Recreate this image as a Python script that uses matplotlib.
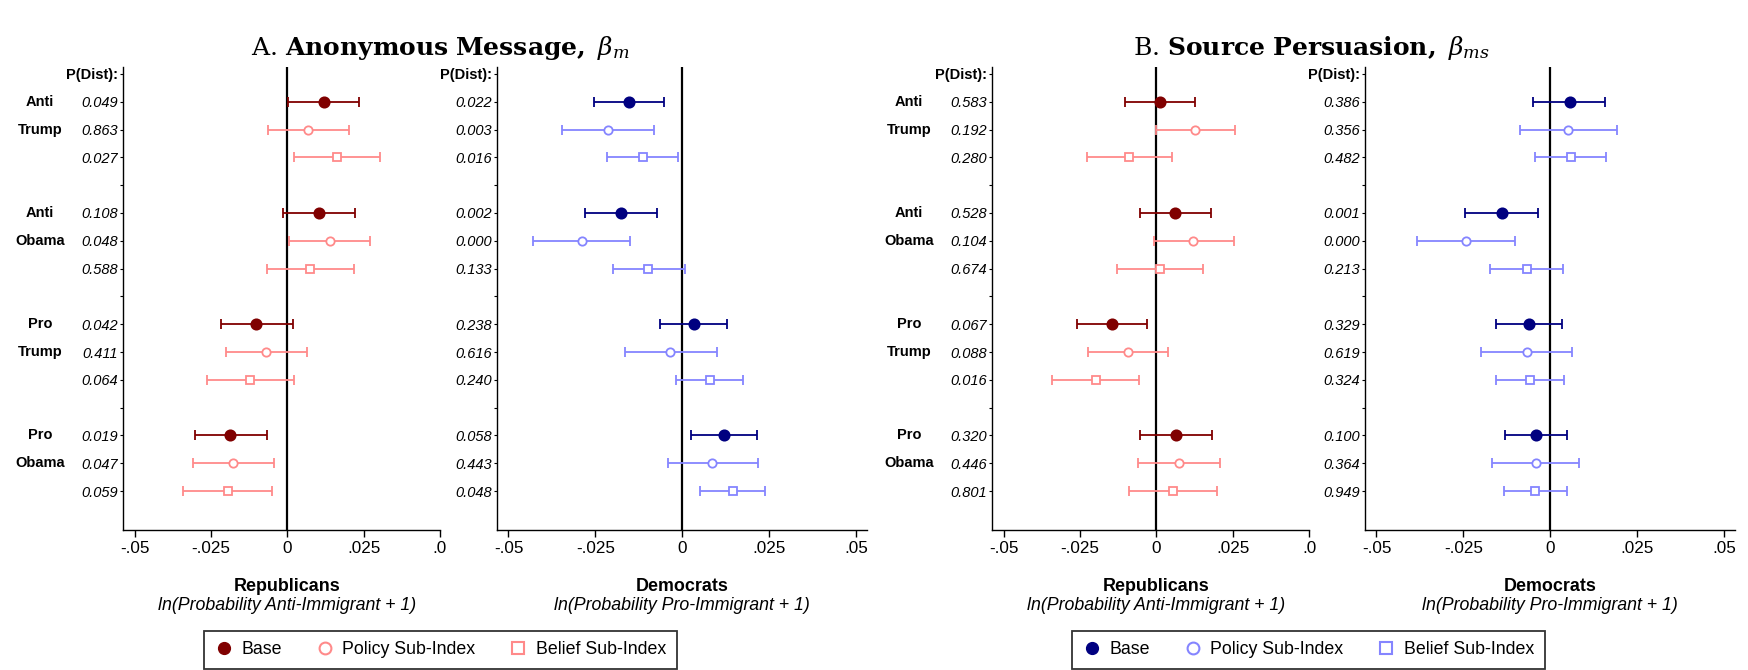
# -*- coding: UTF-8 -*-
import numpy as np
import matplotlib
matplotlib.use("Agg")
import matplotlib.pyplot as plt
import matplotlib.transforms as mtransforms
from matplotlib.lines import Line2D

plt.rcParams['font.family'] = ['Liberation Sans', 'DejaVu Sans']
plt.rcParams['mathtext.fontset'] = 'dejavuserif'

# rows: Anti Trump, Anti Obama, Pro Trump, Pro Obama  x  (Base, Policy, Belief)
rows_y = [1, 2, 3, 5, 6, 7, 9, 10, 11, 13, 14, 15]
group_top = ["Anti", "Anti", "Pro", "Pro"]
group_bot = ["Trump", "Obama", "Trump", "Obama"]
series = ["Base", "Policy Sub-Index", "Belief Sub-Index"]

# A. Anonymous message - Republicans
rep_a_est = [0.0119, 0.0068, 0.0164, 0.0104, 0.0139, 0.0074, -0.0102, -0.0071, -0.0121, -0.0187, -0.0177, -0.0195]
rep_a_lo = [0.0001, -0.0064, 0.0023, -0.0013, 0.0005, -0.0067, -0.0218, -0.0201, -0.0262, -0.0303, -0.0310, -0.0340]
rep_a_hi = [0.0236, 0.0201, 0.0305, 0.0222, 0.0272, 0.0217, 0.0019, 0.0063, 0.0022, -0.0068, -0.0044, -0.0049]
rep_a_p = ["0.049", "0.863", "0.027", "0.108", "0.048", "0.588", "0.042", "0.411", "0.064", "0.019", "0.047", "0.059"]

# A. Anonymous message - Democrats
dem_a_est = [-0.0153, -0.0213, -0.0114, -0.0176, -0.0289, -0.0097, 0.0034, -0.0034, 0.0079, 0.0121, 0.0087, 0.0145]
dem_a_lo = [-0.0254, -0.0345, -0.0216, -0.0279, -0.0428, -0.0199, -0.0063, -0.0164, -0.0018, 0.0025, -0.0041, 0.0050]
dem_a_hi = [-0.0052, -0.0080, -0.0011, -0.0072, -0.0150, 0.0007, 0.0129, 0.0099, 0.0175, 0.0216, 0.0217, 0.0238]
dem_a_p = ["0.022", "0.003", "0.016", "0.002", "0.000", "0.133", "0.238", "0.616", "0.240", "0.058", "0.443", "0.048"]

# B. Source persuasion - Republicans
rep_b_est = [0.0013, 0.0128, -0.0088, 0.0062, 0.0121, 0.0013, -0.0145, -0.0094, -0.0198, 0.0063, 0.0074, 0.0055]
rep_b_lo = [-0.0102, -0.0001, -0.0227, -0.0053, -0.0009, -0.0129, -0.0261, -0.0224, -0.0340, -0.0055, -0.0061, -0.0090]
rep_b_hi = [0.0127, 0.0258, 0.0051, 0.0178, 0.0253, 0.0154, -0.0029, 0.0037, -0.0058, 0.0182, 0.0209, 0.0200]
rep_b_p = ["0.583", "0.192", "0.280", "0.528", "0.104", "0.674", "0.067", "0.088", "0.016", "0.320", "0.446", "0.801"]

# B. Source persuasion - Democrats
dem_b_est = [0.0056, 0.0051, 0.0059, -0.0140, -0.0242, -0.0067, -0.0061, -0.0068, -0.0058, -0.0041, -0.0042, -0.0043]
dem_b_lo = [-0.0049, -0.0088, -0.0045, -0.0245, -0.0384, -0.0173, -0.0155, -0.0199, -0.0155, -0.0131, -0.0167, -0.0134]
dem_b_hi = [0.0159, 0.0192, 0.0161, -0.0035, -0.0101, 0.0037, 0.0034, 0.0063, 0.0041, 0.0049, 0.0083, 0.0049]
dem_b_p = ["0.386", "0.356", "0.482", "0.001", "0.000", "0.213", "0.329", "0.619", "0.324", "0.100", "0.364", "0.949"]

xticks = [-0.05, -0.025, 0, 0.025, 0.05]
xtick_labels = ["-.05", "-.025", "0", ".025", ".05"]

red_dark, red_light = "#800000", "#ff8a8a"
blue_dark, blue_light = "#000080", "#8585ff"

W, H = 1749, 670
fig = plt.figure(figsize=(W / 100, H / 100), dpi=100)

def px_axes(l, r, t=67, b=530):
    return fig.add_axes([l / W, 1 - b / H, (r - l) / W, (b - t) / H])

def draw_panel(ax, est, lo, hi, pv, dark, light, xlim, title, subtitle,
               groups=True, clip_last=False):
    est = np.array(est); lo = np.array(lo); hi = np.array(hi)
    y = np.array(rows_y)
    ax.axvline(0, color="black", lw=1.6, zorder=1)
    markers = [("o", True), ("o", False), ("s", False)]
    for k in range(3):
        idx = np.arange(k, 12, 3)
        col = dark if k == 0 else light
        ax.errorbar(est[idx], y[idx], xerr=[est[idx] - lo[idx], hi[idx] - est[idx]],
                    fmt="none", ecolor=col, elinewidth=1.3, capsize=3.4,
                    capthick=1.3, zorder=2)
        m, filled = markers[k]
        ax.plot(est[idx], y[idx], linestyle="none", marker=m,
                markersize=7.4 if filled else 6.0,
                markerfacecolor=col if filled else "white",
                markeredgecolor=col, markeredgewidth=1.3, zorder=3)
    ax.set_xlim(*xlim)
    ax.set_ylim(16.4, -0.25)
    for s in ["top", "right"]:
        ax.spines[s].set_visible(False)
    ax.spines["left"].set_linewidth(1.0)
    ax.spines["bottom"].set_linewidth(1.0)
    ax.set_xticks(xticks)
    labs = list(xtick_labels)
    if clip_last:
        labs[-1] = ".0"
    ax.set_xticklabels(labs, fontsize=12.3)
    ax.tick_params(axis="x", length=5, width=1.0, pad=3)
    ax.set_yticks([0] + rows_y)
    ax.set_yticklabels(["P(Dist):"] + pv, fontsize=10.5)
    ax.set_yticks([4, 8, 12], minor=True)
    ax.tick_params(axis="y", which="both", length=2.5, width=0.8, pad=1)
    for i, t in enumerate(ax.get_yticklabels()):
        if i == 0:
            t.set_fontweight("bold")
        else:
            t.set_fontstyle("italic")
    tr = mtransforms.blended_transform_factory(ax.transData, ax.transAxes)
    ax.text(0, -0.123, title, transform=tr, ha="center", va="center",
            fontsize=12.9, fontweight="bold")
    ax.text(0, -0.162, subtitle, transform=tr, ha="center", va="center",
            fontsize=12.8, fontstyle="italic")
    if groups:
        tr2 = mtransforms.blended_transform_factory(ax.transAxes, ax.transData)
        for g in range(4):
            ax.text(-0.262, rows_y[3 * g], group_top[g], transform=tr2,
                    ha="center", va="center", fontsize=10.5, fontweight="bold")
            ax.text(-0.262, rows_y[3 * g + 1], group_bot[g], transform=tr2,
                    ha="center", va="center", fontsize=10.5, fontweight="bold")

ax1 = px_axes(123, 440)
ax2 = px_axes(497, 867)
ax3 = px_axes(992, 1309)
ax4 = px_axes(1365, 1735)

lim_rep = (-0.0538, 0.05)
lim_dem = (-0.0533, 0.0532)

draw_panel(ax1, rep_a_est, rep_a_lo, rep_a_hi, rep_a_p, red_dark, red_light, lim_rep,
           "Republicans", "ln(Probability Anti-Immigrant + 1)", groups=True, clip_last=True)
draw_panel(ax2, dem_a_est, dem_a_lo, dem_a_hi, dem_a_p, blue_dark, blue_light, lim_dem,
           "Democrats", "ln(Probability Pro-Immigrant + 1)", groups=False)
draw_panel(ax3, rep_b_est, rep_b_lo, rep_b_hi, rep_b_p, red_dark, red_light, lim_rep,
           "Republicans", "ln(Probability Anti-Immigrant + 1)", groups=True, clip_last=True)
draw_panel(ax4, dem_b_est, dem_b_lo, dem_b_hi, dem_b_p, blue_dark, blue_light, lim_dem,
           "Democrats", "ln(Probability Pro-Immigrant + 1)", groups=False)

# panel titles
fig.text(440 / W, 1 - 48 / H, r"A. $\mathbf{Anonymous\ Message,}$$\ \beta_m$",
         ha="center", va="center", fontsize=18, family="DejaVu Serif")
fig.text(1311 / W, 1 - 48 / H, r"B. $\mathbf{Source\ Persuasion,}$$\ \beta_{ms}$",
         ha="center", va="center", fontsize=18, family="DejaVu Serif")

def make_legend(xc, dark, light):
    handles = [
        Line2D([], [], linestyle="none", marker="o", markersize=8.5,
               markerfacecolor=dark, markeredgecolor=dark),
        Line2D([], [], linestyle="none", marker="o", markersize=8.5,
               markerfacecolor="white", markeredgecolor=light, markeredgewidth=1.5),
        Line2D([], [], linestyle="none", marker="s", markersize=8.5,
               markerfacecolor="white", markeredgecolor=light, markeredgewidth=1.5),
    ]
    leg = fig.legend(handles, series, loc="center", bbox_to_anchor=(xc / W, 1 - 650 / H),
                     ncol=3, fontsize=12.8, frameon=True, fancybox=False,
                     handlelength=1.0, handletextpad=0.5, columnspacing=1.9,
                     borderpad=0.6, borderaxespad=0, edgecolor="black")
    leg.get_frame().set_linewidth(1.3)

make_legend(440.5, red_dark, red_light)
make_legend(1308.5, blue_dark, blue_light)

fig.savefig("out.png", dpi=100)
